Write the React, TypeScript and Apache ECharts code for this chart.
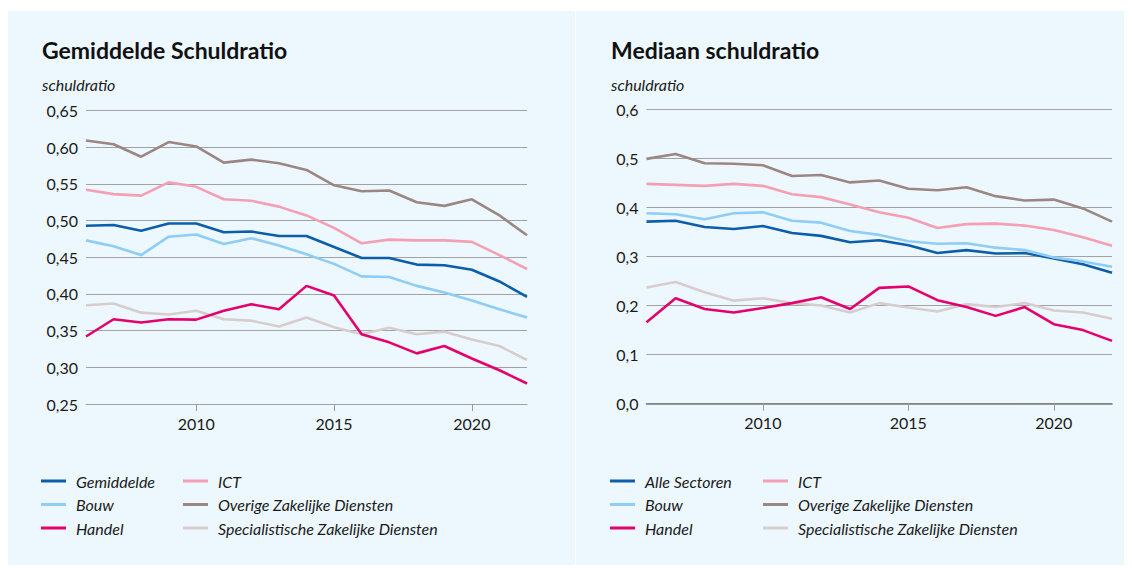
import React, { useEffect, useRef } from "react";
import * as echarts from "echarts";

const years = ["2006","2007","2008","2009","2010","2011","2012","2013","2014","2015","2016","2017","2018","2019","2020","2021","2022"];

// Gemiddelde schuldratio (left)
const gemGemiddelde = [0.493,0.494,0.486,0.496,0.496,0.484,0.485,0.479,0.479,0.464,0.449,0.449,0.440,0.439,0.433,0.417,0.396];
const gemBouw = [0.473,0.465,0.453,0.478,0.481,0.468,0.476,0.466,0.454,0.441,0.424,0.423,0.411,0.402,0.391,0.379,0.368];
const gemHandel = [0.342,0.3655,0.361,0.3655,0.365,0.377,0.386,0.379,0.411,0.398,0.345,0.334,0.319,0.329,0.312,0.296,0.278];
const gemICT = [0.542,0.536,0.534,0.552,0.546,0.529,0.527,0.519,0.507,0.490,0.469,0.474,0.473,0.473,0.471,0.453,0.434];
const gemOverige = [0.609,0.604,0.587,0.607,0.601,0.579,0.583,0.578,0.569,0.548,0.540,0.541,0.525,0.520,0.529,0.507,0.480];
const gemSpecialistische = [0.3845,0.387,0.3745,0.372,0.377,0.3655,0.3636,0.3555,0.368,0.3545,0.345,0.354,0.345,0.3486,0.338,0.329,0.310];

// Mediaan schuldratio (right)
const medAlle = [0.371,0.373,0.360,0.356,0.362,0.348,0.342,0.329,0.333,0.323,0.307,0.313,0.306,0.307,0.296,0.284,0.267];
const medBouw = [0.388,0.386,0.376,0.388,0.390,0.373,0.369,0.352,0.344,0.331,0.326,0.327,0.318,0.313,0.298,0.290,0.279];
const medHandel = [0.166,0.215,0.193,0.186,0.195,0.205,0.217,0.193,0.236,0.239,0.211,0.197,0.179,0.197,0.162,0.150,0.128];
const medICT = [0.448,0.446,0.444,0.448,0.444,0.427,0.421,0.406,0.390,0.379,0.358,0.366,0.367,0.363,0.354,0.339,0.322];
const medOverige = [0.499,0.509,0.490,0.489,0.486,0.464,0.466,0.451,0.455,0.438,0.435,0.441,0.423,0.414,0.416,0.398,0.371];
const medSpecialistische = [0.237,0.248,0.227,0.210,0.215,0.205,0.200,0.186,0.205,0.196,0.188,0.203,0.197,0.205,0.190,0.186,0.173];

const leftTicks = [0.25, 0.65, 0.05];
const rightTicks = [0, 0.6, 0.1];

const COLORS: Record<string, string> = {
  Gemiddelde: "#0d5ea9",
  "Alle Sectoren": "#0d5ea9",
  Bouw: "#8dcdf6",
  Handel: "#e4006d",
  ICT: "#f49fb4",
  "Overige Zakelijke Diensten": "#9b8684",
  "Specialistische Zakelijke Diensten": "#d8cdcd",
};

const FONT = "Lato";
const TEXT = "#1a1a1a";

export default function App() {
  const ref = useRef<HTMLDivElement>(null);
  useEffect(() => {
    if (!ref.current) return;
    const chart = echarts.init(ref.current, undefined, { renderer: "svg" });

    const mk = (name: string, data: number[], idx: number) => ({
      name,
      type: "line",
      xAxisIndex: idx,
      yAxisIndex: idx,
      data,
      symbol: "none",
      lineStyle: { width: 2.6, color: COLORS[name] },
      itemStyle: { color: COLORS[name] },
      z: 3,
    });

    const leftSeries = [
      mk("Specialistische Zakelijke Diensten", gemSpecialistische, 0),
      mk("Handel", gemHandel, 0),
      mk("Bouw", gemBouw, 0),
      mk("Gemiddelde", gemGemiddelde, 0),
      mk("ICT", gemICT, 0),
      mk("Overige Zakelijke Diensten", gemOverige, 0),
    ];
    const rightSeries = [
      mk("Specialistische Zakelijke Diensten", medSpecialistische, 1),
      mk("Handel", medHandel, 1),
      mk("Alle Sectoren", medAlle, 1),
      mk("Bouw", medBouw, 1),
      mk("ICT", medICT, 1),
      mk("Overige Zakelijke Diensten", medOverige, 1),
    ];

    const xAxis = (gi: number, axisColor: string, axisWidth: number) => ({
      type: "category",
      gridIndex: gi,
      data: years,
      boundaryGap: false,
      axisLine: { show: true, lineStyle: { color: axisColor, width: axisWidth } },
      axisTick: {
        show: true,
        length: 7,
        interval: (i: number, v: string) => Number(v) % 5 === 0,
        lineStyle: { color: "#999999" },
      },
      axisLabel: {
        interval: (i: number, v: string) => Number(v) % 5 === 0,
        fontFamily: FONT,
        fontSize: 16,
        color: TEXT,
        margin: 11,
      },
      splitLine: { show: false },
    });

    const yAxis = (gi: number, t: number[], dec: number) => ({
      type: "value",
      gridIndex: gi,
      min: t[0],
      max: t[1],
      interval: t[2],
      axisLine: { show: false },
      axisTick: { show: false },
      axisLabel: {
        fontFamily: FONT,
        fontSize: 16,
        color: TEXT,
        margin: 8,
        formatter: (v: number) => v.toFixed(dec).replace(".", ","),
      },
      splitLine: { lineStyle: { color: "#a2a2a2", width: 1 } },
    });

    const legend = (data: string[], left: number) => ({
      data,
      orient: "vertical",
      left,
      top: 472,
      padding: 0,
      icon: "rect",
      itemWidth: 25,
      itemHeight: 3,
      itemGap: 5.5,
      selectedMode: false,
      textStyle: {
        fontFamily: FONT,
        fontStyle: "italic",
        fontSize: 16,
        color: TEXT,
        lineHeight: 18,
        padding: [0, 0, 0, 5],
      },
    });

    chart.setOption({
      animation: false,
      backgroundColor: "#ffffff",
      graphic: [
        { type: "rect", z: -10, shape: { x: 8, y: 11, width: 567, height: 554 }, style: { fill: "#edf8fe" } },
        { type: "rect", z: -10, shape: { x: 576, y: 11, width: 548, height: 554 }, style: { fill: "#edf8fe" } },
        { type: "text", x: 42, y: 84, style: { text: "schuldratio", fontFamily: FONT, fontStyle: "italic", fontSize: 16, fill: TEXT, verticalAlign: "middle" } },
        { type: "text", x: 611, y: 84, style: { text: "schuldratio", fontFamily: FONT, fontStyle: "italic", fontSize: 16, fill: TEXT, verticalAlign: "middle" } },
      ],
      title: [
        { text: "Gemiddelde Schuldratio", left: 42, top: 38, padding: 0, textStyle: { fontFamily: FONT, fontWeight: "bold", fontSize: 23, color: "#111111" } },
        { text: "Mediaan schuldratio", left: 611, top: 38, padding: 0, textStyle: { fontFamily: FONT, fontWeight: "bold", fontSize: 23, color: "#111111" } },
      ],
      legend: [
        legend(["Gemiddelde", "Bouw", "Handel"], 41),
        legend(["ICT", "Overige Zakelijke Diensten", "Specialistische Zakelijke Diensten"], 183),
        legend(["Alle Sectoren", "Bouw", "Handel"], 610),
        legend(["ICT", "Overige Zakelijke Diensten", "Specialistische Zakelijke Diensten"], 763),
      ],
      grid: [
        { left: 86, right: 1132 - 527, top: 110.5, bottom: 568 - 404, containLabel: false },
        { left: 646.5, right: 1132 - 1112, top: 109.3, bottom: 568 - 403.7, containLabel: false },
      ],
      xAxis: [xAxis(0, "#a2a2a2", 1), xAxis(1, "#7a7a7a", 1.6)],
      yAxis: [yAxis(0, leftTicks, 2), yAxis(1, rightTicks, 1)],
      series: [...leftSeries, ...rightSeries],
    });

    return () => chart.dispose();
  }, []);

  return (
    <div
      ref={ref}
      style={{ position: "fixed", left: 0, top: 0, width: 1132, height: 568 }}
    />
  );
}
